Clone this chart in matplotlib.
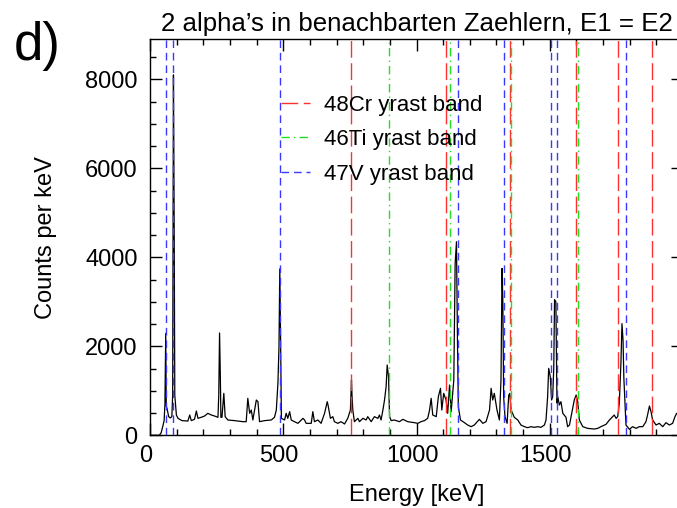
import matplotlib
matplotlib.use("Agg")
import matplotlib.pyplot as plt
from matplotlib.ticker import MultipleLocator, FixedLocator, FixedFormatter
import matplotlib.transforms as mtransforms

plt.rcParams['font.family'] = ['Liberation Sans', 'DejaVu Sans']

# Spectrum (energy keV, counts per keV)
energy = [0, 35, 42, 48, 53, 56, 59, 61, 64, 70, 76, 82, 85, 88, 91, 93, 99, 105,
          120, 142, 149, 155, 167, 174, 180, 192, 205, 217, 230, 242, 255, 258, 261, 264, 266,
          270, 277, 282, 292, 317, 349, 361, 367, 374, 380, 386, 399, 405, 411,
          430, 455, 467, 474, 480, 484, 487, 490, 493, 505, 511, 517, 524, 530,
          542, 555, 574, 580, 586, 605, 611, 617, 630, 642, 655, 665, 668, 677,
          686, 692, 705, 717, 730, 742, 752, 756, 758, 761, 767, 780, 786, 799,
          811, 817, 830, 842, 855, 861, 867, 874, 880, 886, 890, 895, 899, 905,
          917, 936, 949, 967, 992, 1005, 1017, 1030, 1042, 1049, 1055, 1061,
          1074, 1082, 1090, 1095, 1102, 1111, 1117, 1124, 1130, 1140, 1145, 1150,
          1154, 1157, 1165, 1180, 1192, 1205, 1217, 1236, 1249, 1261, 1274, 1280,
          1286, 1292, 1302, 1311, 1317, 1321, 1324, 1327, 1332, 1340, 1346, 1350,
          1355, 1367, 1380, 1392, 1405, 1417, 1430, 1442, 1455, 1467, 1480, 1486,
          1492, 1496, 1502, 1507, 1511, 1515, 1518, 1523, 1527, 1530, 1536, 1542,
          1549, 1561, 1567, 1574, 1580, 1586, 1592, 1599, 1605, 1611, 1624, 1642,
          1667, 1680, 1692, 1711, 1724, 1736, 1742, 1749, 1755, 1761, 1767, 1771,
          1775, 1778, 1786, 1799, 1811, 1824, 1836, 1849, 1861, 1867, 1874, 1880,
          1886, 1899, 1911, 1924, 1936, 1949, 1961, 1970, 1976, 1990, 2000]
counts = [0, 0, 60, 200, 330, 700, 2290, 650, 600, 420, 390, 420, 900, 8100, 4300, 900, 456, 381,
          330, 320, 456, 330, 359, 546, 381, 404, 434, 494, 456, 434, 404, 900, 2300, 1310, 404,
          404, 943, 419, 344, 330, 306, 306, 831, 494, 568, 344, 793, 756, 306,
          330, 344, 404, 568, 1168, 2000, 3740, 2180, 381, 344, 494, 381, 531, 344,
          306, 269, 381, 344, 269, 269, 531, 306, 344, 269, 494, 756, 681, 381,
          419, 306, 269, 306, 254, 381, 568, 1243, 900, 568, 306, 381, 306, 381,
          344, 419, 306, 419, 381, 456, 344, 568, 793, 1093, 1580, 1317, 419, 330,
          344, 306, 359, 306, 284, 269, 306, 330, 381, 568, 831, 456,
          419, 868, 1055, 568, 943, 793, 494, 1130, 531, 1243, 3850, 4350,
          2000, 643, 344, 284, 231, 194, 231, 359, 269, 306, 568, 1055,
          793, 943, 568, 344, 1243, 3750, 3000, 868, 419, 269, 900, 943,
          568, 404, 344, 231, 194, 171, 194, 179, 194, 179, 231, 344,
          868, 1505, 1317, 793, 868, 1500, 3050, 3000, 726, 868, 681, 756,
          494, 404, 194, 231, 419, 606, 793, 905, 756, 344, 194, 156,
          141, 156, 194, 246, 344, 419, 456, 381, 419, 718, 1617, 2510,
          2135, 1300, 231, 134, 194, 156, 194, 194, 306, 456, 658, 531,
          344, 231, 269, 194, 284, 231, 269, 419, 494, 420, 400]

# Yrast band transition energies (keV)
cr48_lines = [756, 1112, 1350, 1597, 1756, 1883]
ti46_lines = [895, 1127, 1355, 1607]
v47_lines = [59, 88, 487, 1156, 1327, 1504, 1526, 1785]

x_ticks = [0, 500, 1000, 1500, 2000]
x_ticklabels = ['0', '500', '1000', '1500', '']
title = "2 alpha\u2019s in benachbarten Zaehlern, E1 = E2"

fig = plt.figure(figsize=(6.77, 5.08), dpi=100)
ax = fig.add_axes([150/677, (508-435.3)/508, 533/677, 396/508])

ax.plot(energy, counts, color='black', lw=0.9, zorder=2)

first = True
for e in cr48_lines:
    ax.axvline(e, color='#ff3030', lw=1.0, dashes=(12, 4), zorder=3,
               label='48Cr yrast band' if first else None)
    first = False
first = True
for e in ti46_lines:
    ax.axvline(e, color='#20e020', lw=1.0, dashes=(6, 3, 1, 3), zorder=3,
               label='46Ti yrast band' if first else None)
    first = False
first = True
for e in v47_lines:
    ax.axvline(e, color='#3838ff', lw=1.0, dashes=(5.5, 3.5), zorder=3,
               label='47V yrast band' if first else None)
    first = False

ax.set_xlim(0, 2000)
ax.set_ylim(0, 8900)
ax.xaxis.set_major_locator(FixedLocator(x_ticks))
ax.xaxis.set_major_formatter(FixedFormatter(x_ticklabels))
ax.xaxis.set_minor_locator(MultipleLocator(100))
ax.yaxis.set_major_locator(MultipleLocator(2000))
ax.yaxis.set_minor_locator(MultipleLocator(500))
ax.tick_params(which='both', direction='in', top=True, right=True, width=1.0,
               labelsize=17)
ax.tick_params(which='major', length=8.5)
ax.tick_params(which='minor', length=4.5)
ax.tick_params(axis='x', pad=7)
ax.tick_params(axis='y', pad=9)
for s in ax.spines.values():
    s.set_linewidth(1.0)

# IDL-style slight left shift of x tick labels
shift = mtransforms.ScaledTranslation(-4/100, 0, fig.dpi_scale_trans)
for lbl in ax.get_xticklabels():
    lbl.set_transform(lbl.get_transform() + shift)

ax.set_xlabel('Energy [keV]', fontsize=17, labelpad=12)
ax.set_ylabel('Counts per keV', fontsize=17, labelpad=20)
ax.set_title(title, fontsize=18.6, pad=6)

leg = ax.legend(loc='upper left', bbox_to_anchor=(0.209, 0.91), frameon=False,
                fontsize=16, handlelength=1.3, handletextpad=0.6, labelspacing=0.6)

fig.text(14/677, 1-60/508, 'd)', fontsize=38, va='baseline', ha='left')

fig.savefig('out.png', dpi=100)
